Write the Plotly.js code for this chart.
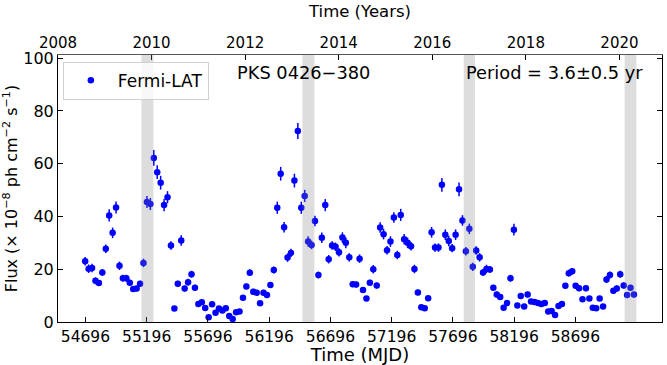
<!DOCTYPE html>
<html>
<head>
<meta charset="utf-8">
<script src="https://cdn.plot.ly/plotly-3.0.1.min.js"></script>
<style>
  html, body { margin: 0; padding: 0; background: #ffffff; }
  #chart { width: 667px; height: 365px; }
</style>
</head>
<body>
<div id="chart"></div>
<script>
// Light curve of PKS 0426-380 (28-day bins)

const mjd = [
    54694, 54722, 54750, 54778, 54806, 54834, 54862, 54890, 54918, 54946,
    54974, 55002, 55030, 55058, 55086, 55114, 55142, 55170, 55198, 55226,
    55254, 55282, 55310, 55338, 55366, 55394, 55422, 55450, 55478, 55506,
    55534, 55562, 55590, 55618, 55646, 55674, 55702, 55730, 55758, 55786,
    55814, 55842, 55870, 55898, 55926, 55954, 55982, 56010, 56038, 56066,
    56094, 56122, 56150, 56178, 56206, 56234, 56262, 56290, 56318, 56346,
    56374, 56402, 56430, 56458, 56486, 56514, 56542, 56570, 56598, 56626,
    56654, 56682, 56710, 56738, 56766, 56794, 56822, 56850, 56878, 56906,
    56934, 56962, 56990, 57018, 57046, 57074, 57102, 57130, 57158, 57186,
    57214, 57242, 57270, 57298, 57326, 57354, 57382, 57410, 57438, 57466,
    57494, 57522, 57550, 57578, 57606, 57634, 57662, 57690, 57718, 57746,
    57774, 57802, 57830, 57858, 57886, 57914, 57942, 57970, 57998, 58026,
    58054, 58082, 58110, 58138, 58166, 58194, 58222, 58250, 58278, 58306,
    58334, 58362, 58390, 58418, 58446, 58474, 58502, 58530, 58558, 58586,
    58614, 58642, 58670, 58698, 58726, 58754, 58782, 58810, 58838, 58866,
    58894, 58922, 58950, 58978, 59006, 59034, 59062, 59090, 59118, 59146,
    59174
];

const flux = [
    23.0, 20.2, 20.5, 15.6, 14.8, 18.8, 27.8, 40.4, 33.8, 43.4,
    21.3, 16.6, 16.6, 14.9, 12.5, 12.7, 14.5, 22.4, 45.5, 44.7,
    62.2, 56.8, 52.8, 44.3, 47.3, 29.0, 5.1, 14.5, 30.9, 12.7,
    15.1, 18.1, 13.0, 6.8, 7.5, 5.3, 1.8, 6.7, 3.5, 5.1,
    4.4, 5.2, 2.3, 1.1, 3.7, 4.0, 9.2, 13.5, 18.7, 11.5,
    11.1, 7.1, 11.1, 10.2, 14.0, 19.7, 43.3, 56.2, 35.9, 24.4,
    26.2, 53.6, 72.4, 43.3, 47.8, 30.5, 29.2, 38.3, 17.8, 31.9,
    44.3, 23.8, 29.0, 28.5, 26.4, 32.0, 30.0, 24.5, 14.3, 14.2,
    24.0, 12.1, 8.9, 14.9, 20.0, 13.8, 35.8, 33.3, 27.2, 30.5,
    39.6, 25.4, 40.6, 31.4, 30.0, 28.7, 20.1, 11.2, 5.6, 5.2,
    9.0, 34.0, 28.2, 28.2, 52.0, 33.1, 30.7, 28.0, 33.1, 50.3,
    38.5, 26.8, 35.3, 20.9, 27.1, 24.5, 18.8, 20.1, 19.9, 13.0,
    10.4, 9.5, 5.4, 7.2, 16.6, 35.0, 6.3, 9.9, 5.9, 10.4,
    7.8, 7.6, 7.2, 6.8, 7.2, 4.0, 4.2, 2.7, 6.1, 6.8,
    13.7, 18.5, 19.2, 13.7, 12.8, 8.6, 12.8, 8.9, 5.4, 5.2,
    8.9, 5.9, 16.1, 17.8, 11.8, 12.7, 18.1, 13.8, 10.2, 13.0,
    10.4
];

const fluxErr = [
    1.6, 1.6, 1.6, 1.3, 1.1, 1.3, 1.6, 2.3, 2.0, 2.3,
    1.6, 1.3, 1.3, 1.1, 1.1, 1.1, 1.1, 1.6, 2.3, 2.3,
    3.0, 2.6, 2.6, 2.3, 2.3, 1.6, 0.9, 1.1, 2.0, 1.1,
    1.3, 1.3, 1.1, 0.9, 0.9, 0.9, 0.7, 0.9, 0.7, 0.9,
    0.7, 0.9, 0.7, 0.7, 0.7, 0.7, 0.9, 1.1, 1.3, 1.1,
    1.1, 0.9, 1.1, 1.1, 1.1, 1.3, 2.3, 2.6, 2.0, 1.6,
    1.6, 2.6, 3.0, 2.3, 2.3, 2.0, 1.6, 2.0, 1.3, 2.0,
    2.3, 1.6, 1.6, 1.6, 1.6, 2.0, 2.0, 1.6, 1.1, 1.1,
    1.6, 1.1, 0.9, 1.1, 1.6, 1.1, 2.0, 2.0, 1.6, 2.0,
    2.0, 1.6, 2.3, 2.0, 2.0, 1.6, 1.6, 1.1, 0.9, 0.9,
    0.9, 2.0, 1.6, 1.6, 2.6, 2.0, 2.0, 1.6, 2.0, 2.6,
    2.0, 1.6, 2.0, 1.6, 1.6, 1.6, 1.3, 1.6, 1.3, 1.1,
    1.1, 0.9, 0.9, 0.9, 1.3, 2.2, 0.9, 0.9, 0.9, 1.1,
    0.9, 0.9, 0.9, 0.9, 0.9, 0.7, 0.7, 0.7, 0.9, 0.9,
    1.1, 1.3, 1.3, 1.1, 1.1, 0.9, 1.1, 0.9, 0.9, 0.9,
    0.9, 0.9, 1.3, 1.3, 1.1, 1.1, 1.3, 1.1, 1.1, 1.1,
    1.1
];

// Predicted flare windows (shaded)
const bandStart = [55153, 56467, 57784, 59098];
const bandEnd   = [55251, 56565, 57876, 59194];

const mjdTicks = [54696, 55196, 55696, 56196, 56696, 57196, 57696, 58196, 58696];
const yearTicks = [2008, 2010, 2012, 2014, 2016, 2018, 2020];

const FONT = 'DejaVu Sans, sans-serif';

const traces = [];

traces.push({
    x: mjd,
    y: flux,
    type: 'scatter',
    mode: 'markers',
    name: 'Fermi-LAT',
    marker: { color: '#0000ff', size: 6.5 },
    error_y: {
        type: 'data',
        array: fluxErr,
        visible: true,
        color: '#0000ff',
        thickness: 1.5,
        width: 0
    },
    cliponaxis: false
});

// dummy trace so the top (years) axis is drawn
traces.push({
    x: [yearTicks[0]],
    y: [null],
    xaxis: 'x2',
    type: 'scatter',
    mode: 'markers',
    showlegend: false,
    hoverinfo: 'skip'
});

const shapes = bandStart.map((s, i) => ({
    type: 'rect',
    xref: 'x',
    yref: 'paper',
    x0: s,
    x1: bandEnd[i],
    y0: 0,
    y1: 1,
    fillcolor: 'rgba(128,128,128,0.27)',
    line: { width: 0 },
    layer: 'above'
}));

const layout = {
    width: 667,
    height: 365,
    margin: { l: 58, r: 5, t: 55, b: 43 },
    plot_bgcolor: '#ffffff',
    paper_bgcolor: '#ffffff',
    font: { family: FONT, size: 15, color: '#000000' },
    showlegend: true,
    legend: {
        x: 0.008,
        y: 0.975,
        xanchor: 'left',
        yanchor: 'top',
        bgcolor: 'rgba(255,255,255,0.8)',
        bordercolor: '#d0d0d0',
        borderwidth: 1,
        itemwidth: 44,
        font: { family: FONT, size: 17 }
    },
    xaxis: {
        range: [54472, 59403],
        tickvals: mjdTicks,
        ticktext: mjdTicks.map(String),
        ticks: 'inside',
        ticklen: 5,
        tickcolor: '#000000',
        showline: true,
        linecolor: '#000000',
        linewidth: 1,
        showgrid: false,
        zeroline: false,
        tickfont: { family: FONT, size: 15.5 },
        title: { text: 'Time (MJD)', font: { family: FONT, size: 18 }, standoff: 3 }
    },
    xaxis2: {
        overlaying: 'x',
        side: 'top',
        range: [2008, 2020.91],
        tickvals: yearTicks,
        ticks: 'inside',
        ticklen: 5,
        tickcolor: '#000000',
        showline: true,
        linecolor: '#555555',
        linewidth: 1,
        showgrid: false,
        zeroline: false,
        tickfont: { family: FONT, size: 15 },
        title: { text: 'Time (Years)', font: { family: FONT, size: 16.5 }, standoff: 12 }
    },
    yaxis: {
        range: [0, 101.2],
        tickvals: [0, 20, 40, 60, 80, 100],
        ticks: 'inside',
        ticklen: 5,
        tickcolor: '#000000',
        showline: true,
        mirror: 'ticks',
        linecolor: '#000000',
        linewidth: 1,
        showgrid: false,
        zeroline: false,
        tickfont: { family: FONT, size: 16 },
        title: {
            text: 'Flux (× 10<sup>−8</sup> ph cm<sup>−2</sup> s<sup>−1</sup>)',
            font: { family: FONT, size: 16 },
            standoff: 4
        }
    },
    shapes: shapes,
    annotations: [
        {
            xref: 'paper', yref: 'paper',
            x: 0.406, y: 0.933,
            xanchor: 'center', yanchor: 'middle',
            text: 'PKS 0426−380',
            showarrow: false,
            font: { family: FONT, size: 17.8 }
        },
        {
            xref: 'paper', yref: 'paper',
            x: 0.972, y: 0.933,
            xanchor: 'right', yanchor: 'middle',
            text: 'Period = 3.6±0.5 yr',
            showarrow: false,
            font: { family: FONT, size: 17.8 }
        }
    ]
};

const config = {
    responsive: false,
    displayModeBar: false,
    staticPlot: true
};

Plotly.newPlot('chart', traces, layout, config);
</script>
</body>
</html>
